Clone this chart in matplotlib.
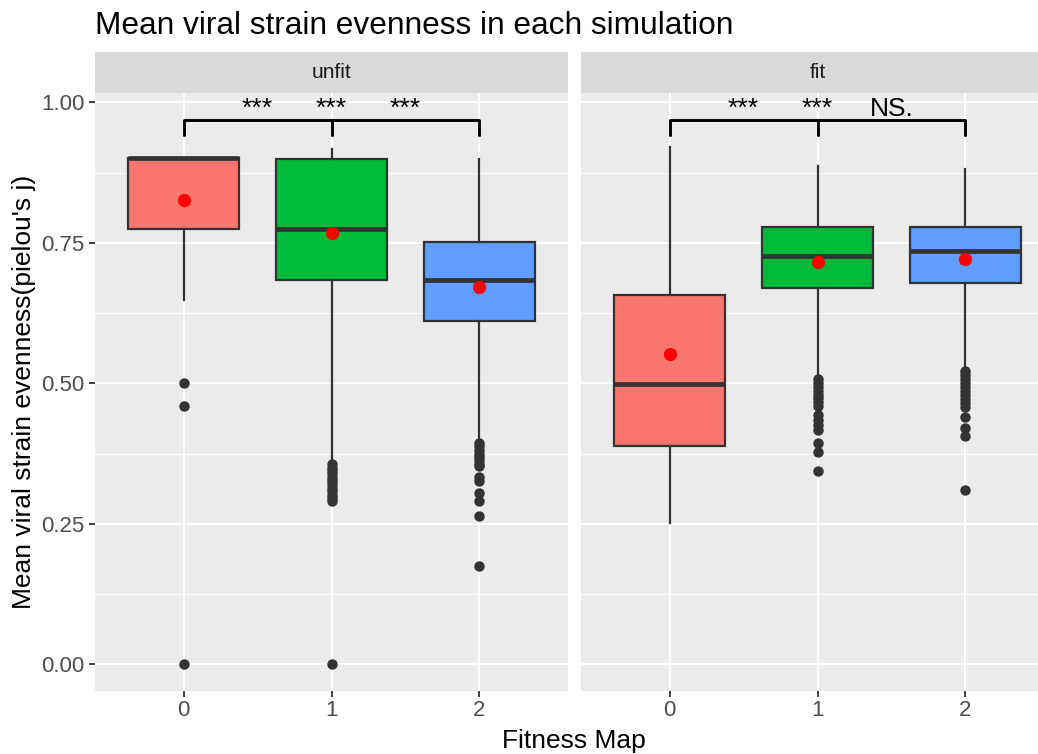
import matplotlib
matplotlib.use("Agg")
import matplotlib.pyplot as plt

plt.rcParams["font.family"] = ["Liberation Sans", "DejaVu Sans"]

FACETS = ["unfit", "fit"]
MAPS = ["0", "1", "2"]
FILLS = ["#F8766D", "#00BA38", "#619CFF"]

# per facet, per fitness map: q1, median, q3, lower whisker, upper whisker, mean
unfit_q1 = [0.774, 0.684, 0.610]
unfit_med = [0.900, 0.774, 0.683]
unfit_q3 = [0.900, 0.899, 0.751]
unfit_lo = [0.648, 0.362, 0.400]
unfit_hi = [0.900, 0.917, 0.899]
unfit_mean = [0.827, 0.768, 0.671]
unfit_out = [
    [0.500, 0.460, 0.000],
    [0.356, 0.350, 0.344, 0.338, 0.332, 0.326, 0.320, 0.314, 0.308,
     0.302, 0.296, 0.290, 0.000],
    [0.394, 0.388, 0.381, 0.375, 0.369, 0.363, 0.357, 0.352, 0.334,
     0.327, 0.304, 0.291, 0.264, 0.175],
]

fit_q1 = [0.388, 0.669, 0.678]
fit_med = [0.498, 0.727, 0.735]
fit_q3 = [0.657, 0.778, 0.778]
fit_lo = [0.252, 0.513, 0.529]
fit_hi = [0.921, 0.887, 0.881]
fit_mean = [0.553, 0.716, 0.721]
fit_out = [
    [],
    [0.507, 0.500, 0.493, 0.487, 0.480, 0.473, 0.466, 0.459, 0.444,
     0.435, 0.426, 0.417, 0.393, 0.377, 0.344],
    [0.521, 0.514, 0.507, 0.500, 0.493, 0.486, 0.479, 0.472, 0.465,
     0.458, 0.440, 0.420, 0.406, 0.310],
]

# pairwise comparisons drawn as brackets, label placed at the pair midpoint
pairs = [(0, 1), (0, 2), (1, 2)]
unfit_sig = ["***", "***", "***"]
fit_sig = ["***", "***", "NS."]

stats = {
    "unfit": (unfit_q1, unfit_med, unfit_q3, unfit_lo, unfit_hi, unfit_mean, unfit_out, unfit_sig),
    "fit": (fit_q1, fit_med, fit_q3, fit_lo, fit_hi, fit_mean, fit_out, fit_sig),
}

W, H = 1038, 754
fig = plt.figure(figsize=(W / 100, H / 100), dpi=100)
fig.patch.set_facecolor("white")

panel_w = 473
panel_lefts = [95, 581]
panel_top, panel_bot = 93.3, 691
strip_top = 52.3
DARK = "#333333"

for k, facet in enumerate(FACETS):
    q1, med, q3, lo, hi, mean, out, sig = stats[facet]
    left = panel_lefts[k]
    ax = fig.add_axes([left / W, 1 - panel_bot / H, panel_w / W, (panel_bot - panel_top) / H])
    ax.set_facecolor("#EBEBEB")
    ax.set_xlim(-0.6, 2.6)
    ax.set_ylim(-0.0475, 1.016)
    for s in ax.spines.values():
        s.set_visible(False)

    # grid
    for y in [0.125, 0.375, 0.625, 0.875]:
        ax.axhline(y, color="white", lw=0.7, zorder=0)
    for y in [0, 0.25, 0.5, 0.75, 1.0]:
        ax.axhline(y, color="white", lw=1.4, zorder=0)
    for x in range(3):
        ax.axvline(x, color="white", lw=1.4, zorder=0)

    bstats = []
    for i in range(3):
        bstats.append(dict(q1=q1[i], med=med[i], q3=q3[i], whislo=lo[i],
                           whishi=hi[i], fliers=out[i], mean=mean[i]))
    bp = ax.bxp(bstats, positions=range(3), widths=0.75, patch_artist=True,
                showmeans=True, showcaps=False, manage_ticks=False,
                boxprops=dict(edgecolor=DARK, linewidth=1.6),
                medianprops=dict(color=DARK, linewidth=3.4, solid_capstyle="butt"),
                whiskerprops=dict(color=DARK, linewidth=1.6),
                flierprops=dict(marker="o", markerfacecolor=DARK, markeredgecolor=DARK,
                                markersize=6.5, linestyle="none"),
                meanprops=dict(marker="o", markerfacecolor="red", markeredgecolor="red",
                               markersize=8.5))
    for patch, c in zip(bp["boxes"], FILLS):
        patch.set_facecolor(c)
        patch.set_zorder(2)

    # significance brackets
    bracket_y, tip_y = 0.968, 0.940
    for (a, b), lab in zip(pairs, sig):
        ax.plot([a, a, b, b], [tip_y, bracket_y, bracket_y, tip_y],
                color="black", lw=1.8, zorder=4, solid_capstyle="butt")
        ax.text((a + b) / 2, 0.976, lab, ha="center", va="baseline",
                fontsize=19, color="black")

    ax.set_xticks(range(3))
    ax.set_xticklabels(MAPS)
    ax.tick_params(axis="x", length=4.3, width=1.3, color=DARK, labelsize=16,
                   labelcolor="#4D4D4D", pad=2)
    if k == 0:
        ax.set_yticks([0, 0.25, 0.5, 0.75, 1.0])
        ax.set_yticklabels(["0.00", "0.25", "0.50", "0.75", "1.00"])
        ax.tick_params(axis="y", length=4.3, width=1.3, color=DARK, labelsize=16,
                       labelcolor="#4D4D4D", pad=3)
    else:
        ax.set_yticks([])

    # facet strip
    sax = fig.add_axes([left / W, 1 - panel_top / H, panel_w / W, (panel_top - strip_top) / H])
    sax.set_facecolor("#D9D9D9")
    sax.set_xticks([])
    sax.set_yticks([])
    for s in sax.spines.values():
        s.set_visible(False)
    sax.text(0.5, 0.5, facet, ha="center", va="center", fontsize=15,
             color="#1A1A1A", transform=sax.transAxes)

fig.text(95 / W, 1 - 34 / H, "Mean viral strain evenness in each simulation",
         ha="left", va="baseline", fontsize=22.8, color="black")
fig.text(574 / W, 1 - 748 / H, "Fitness Map", ha="center", va="baseline",
         fontsize=19, color="black")
fig.text(24 / W, 1 - 392 / H, "Mean viral strain evenness(pielou's j)", ha="center",
         va="center", rotation=90, fontsize=19, color="black")

fig.savefig("out.png", dpi=100, facecolor="white")
